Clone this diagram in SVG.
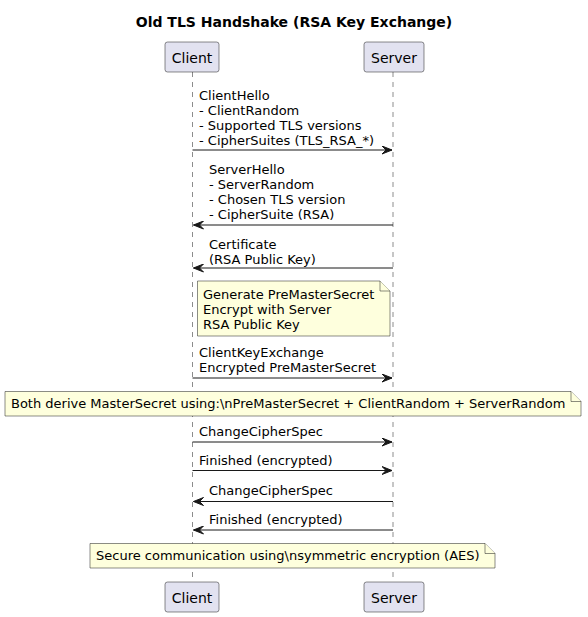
<svg xmlns="http://www.w3.org/2000/svg" width="588" height="617" viewBox="0 0 588 617">
<style>
text{font-family:"DejaVu Sans",sans-serif;font-size:13px;fill:#000}
.title{font-size:14px;font-weight:bold;text-anchor:middle}
.pt{font-size:14px;text-anchor:middle}
.part{fill:#E2E2F0;stroke:#181818;stroke-width:0.5}
.note{fill:#FEFFDD;stroke:#181818;stroke-width:0.5}
.life{stroke:#181818;stroke-width:0.5;stroke-dasharray:5,5;fill:none}
.msg{stroke:#181818;stroke-width:1;fill:none}
.ah{fill:#181818;stroke:#181818;stroke-width:1}
</style>
<defs>
<marker id="arr" viewBox="0 0 11 9" refX="10.5" refY="4.5" markerWidth="11" markerHeight="9" markerUnits="userSpaceOnUse" orient="auto">
<polygon points="0.5,0.5 10.5,4.5 0.5,8.5 4.5,4.5" class="ah"/>
</marker>
</defs>
<rect width="588" height="617" fill="#FFFFFF"/>
<text class="title" x="294" y="27">Old TLS Handshake (RSA Key Exchange)</text>
<g id="lifelines">
<line class="life" x1="192.5" y1="72" x2="192.5" y2="582"/>
<line class="life" x1="393" y1="72" x2="393" y2="582"/>
</g>
<g id="client">
<rect class="part" x="165" y="42" width="54" height="30" rx="2.5"/>
<text class="pt" x="192" y="62.5">Client</text>
<rect class="part" x="165" y="582" width="54" height="30" rx="2.5"/>
<text class="pt" x="192" y="602.5">Client</text>
</g>
<g id="server">
<rect class="part" x="364" y="42" width="60" height="30" rx="2.5"/>
<text class="pt" x="394" y="62.5">Server</text>
<rect class="part" x="364" y="582" width="60" height="30" rx="2.5"/>
<text class="pt" x="394" y="602.5">Server</text>
</g>
<g id="connectors">
<line class="msg" x1="192.5" y1="150" x2="392" y2="150" marker-end="url(#arr)"/>
<line class="msg" x1="393" y1="225" x2="193.5" y2="225" marker-end="url(#arr)"/>
<line class="msg" x1="393" y1="268" x2="193.5" y2="268" marker-end="url(#arr)"/>
<line class="msg" x1="192.5" y1="378" x2="392" y2="378" marker-end="url(#arr)"/>
<line class="msg" x1="192.5" y1="442" x2="392" y2="442" marker-end="url(#arr)"/>
<line class="msg" x1="192.5" y1="470.5" x2="392" y2="470.5" marker-end="url(#arr)"/>
<line class="msg" x1="393" y1="501.5" x2="193.5" y2="501.5" marker-end="url(#arr)"/>
<line class="msg" x1="393" y1="530" x2="193.5" y2="530" marker-end="url(#arr)"/>
</g>
<g id="labels">
<text x="199" y="99.5">ClientHello</text>
<text x="199" y="114.5">- ClientRandom</text>
<text x="199" y="129.5">- Supported TLS versions</text>
<text x="199" y="144.5">- CipherSuites (TLS_RSA_*)</text>
<text x="209" y="174">ServerHello</text>
<text x="209" y="189">- ServerRandom</text>
<text x="209" y="204">- Chosen TLS version</text>
<text x="209" y="219">- CipherSuite (RSA)</text>
<text x="209" y="248.5">Certificate</text>
<text x="209" y="263.5">(RSA Public Key)</text>
<text x="199" y="357">ClientKeyExchange</text>
<text x="199" y="372">Encrypted PreMasterSecret</text>
<text x="199" y="436">ChangeCipherSpec</text>
<text x="199" y="464.5">Finished (encrypted)</text>
<text x="209" y="495">ChangeCipherSpec</text>
<text x="209" y="524">Finished (encrypted)</text>
</g>
<g id="note1">
<path class="note" d="M197.5,281 L197.5,336 L390,336 L390,291 L380,281 Z"/>
<path class="note" d="M380,281 L380,291 L390,291"/>
<text x="203" y="298.5">Generate PreMasterSecret</text>
<text x="203" y="313.5">Encrypt with Server</text>
<text x="203" y="328.5">RSA Public Key</text>
</g>
<g id="note2">
<path class="note" d="M5,391.5 L5,416 L581,416 L581,401.5 L571,391.5 Z"/>
<path class="note" d="M571,391.5 L571,401.5 L581,401.5"/>
<text x="11" y="408">Both derive MasterSecret using:\nPreMasterSecret + ClientRandom + ServerRandom</text>
</g>
<g id="note3">
<path class="note" d="M90,543.5 L90,568 L495,568 L495,553.5 L485,543.5 Z"/>
<path class="note" d="M485,543.5 L485,553.5 L495,553.5"/>
<text x="96" y="560">Secure communication using\nsymmetric encryption (AES)</text>
</g>
</svg>
